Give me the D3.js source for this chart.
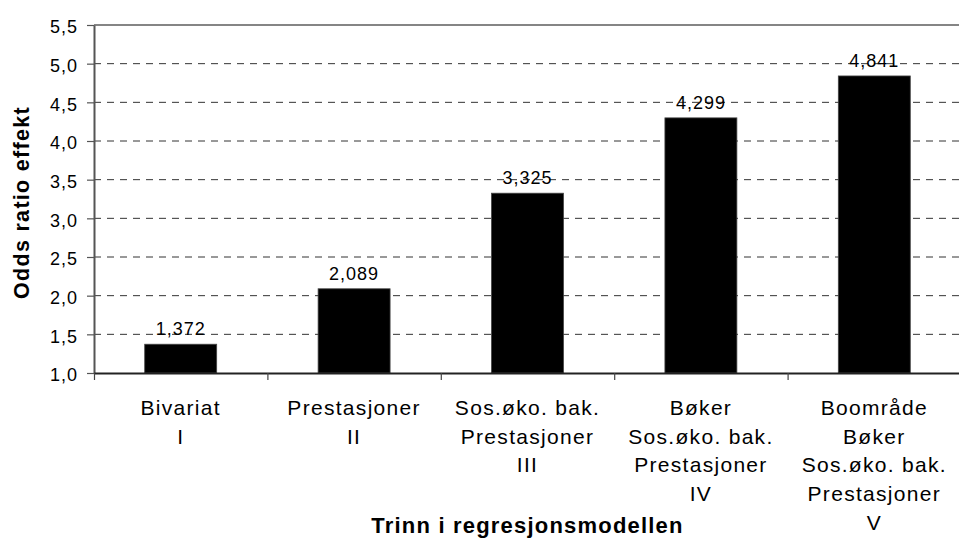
<!DOCTYPE html>
<html>
<head>
<meta charset="utf-8">
<script src="https://cdn.jsdelivr.net/npm/d3@7"></script>
<style>
  html, body { margin: 0; padding: 0; background: #fff; }
  svg text { font-family: "Liberation Sans", Arial, sans-serif; fill: #000; }
</style>
</head>
<body>
<div id="chart"></div>
<script>
// data
const categories = [
  ["Bivariat", "I"],
  ["Prestasjoner", "II"],
  ["Sos.øko. bak.", "Prestasjoner", "III"],
  ["Bøker", "Sos.øko. bak.", "Prestasjoner", "IV"],
  ["Boområde", "Bøker", "Sos.øko. bak.", "Prestasjoner", "V"]
]
const values = [1.372, 2.089, 3.325, 4.299, 4.841]
const yTicks = [1.0, 1.5, 2.0, 2.5, 3.0, 3.5, 4.0, 4.5, 5.0, 5.5]
const yTitle = "Odds ratio effekt"
const xTitle = "Trinn i regresjonsmodellen"

const width = 959
const height = 538
const plotLeft = 94, plotRight = 961, plotTop = 25, plotBottom = 373

const comma = f => v => d3.format(f)(v).replace(".", ",")

const svg = d3.select("#chart")
  .append("svg")
  .attr("xmlns", "http://www.w3.org/2000/svg")
  .attr("width", width)
  .attr("height", height)

const y = d3.scaleLinear().domain([1, 5.5]).range([plotBottom, plotTop])
const x = d3.scaleBand().domain(d3.range(values.length)).range([plotLeft, plotRight])
  .paddingInner(0.585).paddingOuter(0.2925)
const xEdge = d3.scaleLinear().domain([0, values.length]).range([plotLeft, plotRight])

// dashed gridlines
svg.append("g")
  .selectAll("line")
  .data(yTicks.filter(t => t > 1 && t < 5.5))
  .enter()
  .append("line")
  .attr("x1", plotLeft)
  .attr("x2", plotRight)
  .attr("y1", d => y(d))
  .attr("y2", d => y(d))
  .attr("stroke", "#333")
  .attr("stroke-width", 1)
  .attr("stroke-dasharray", "7,6")

// top border of plot area
svg.append("line")
  .attr("x1", plotLeft).attr("x2", plotRight)
  .attr("y1", y(5.5)).attr("y2", y(5.5))
  .attr("stroke", "#858585")
  .attr("stroke-width", 2)

// bars
svg.append("g")
  .selectAll("rect")
  .data(values)
  .enter()
  .append("rect")
  .attr("x", (d, i) => x(i))
  .attr("width", x.bandwidth())
  .attr("y", d => y(d))
  .attr("height", d => y(1) - y(d))
  .attr("fill", "#000")
  .attr("stroke", "#444")
  .attr("stroke-width", 0.8)

// value labels
svg.append("g")
  .selectAll("text")
  .data(values)
  .enter()
  .append("text")
  .attr("x", (d, i) => x(i) + x.bandwidth() / 2)
  .attr("y", d => y(d) - 9)
  .attr("text-anchor", "middle")
  .style("font-size", "18px")
  .style("letter-spacing", "1px")
  .text(d => comma(".3f")(d))

// y axis
const yAxis = svg.append("g")
  .attr("transform", `translate(${plotLeft},0)`)
  .call(d3.axisLeft(y).tickValues(yTicks).tickFormat(comma(".1f")).tickSize(7).tickSizeOuter(0))
yAxis.select(".domain").attr("stroke", "#555").attr("stroke-width", 2)
yAxis.selectAll(".tick line").attr("stroke", "#555").attr("stroke-width", 1.2)
yAxis.selectAll(".tick text")
  .attr("x", -16)
  .attr("dy", "0.43em")
  .style("font-size", "18px")
  .style("letter-spacing", "1px")
  .attr("fill", "#000")

// x axis, ticks on category boundaries
const xAxis = svg.append("g")
  .attr("transform", `translate(0,${plotBottom})`)
  .call(d3.axisBottom(xEdge).tickValues(d3.range(values.length + 1)).tickFormat("").tickSize(7).tickSizeOuter(0))
xAxis.select(".domain").attr("stroke", "#222").attr("stroke-width", 2)
xAxis.selectAll(".tick line").attr("stroke", "#444").attr("stroke-width", 1.2)

// category labels
const catG = svg.append("g")
  .selectAll("text")
  .data(categories)
  .enter()
  .append("text")
  .attr("text-anchor", "middle")
  .style("font-size", "21px")
  .style("letter-spacing", "1.3px")
catG.selectAll("tspan")
  .data((d, i) => d.map(line => ({ line, i })))
  .enter()
  .append("tspan")
  .attr("x", d => x(d.i) + x.bandwidth() / 2)
  .attr("y", (d, j) => 415 + j * 28.7)
  .text(d => d.line)

// axis titles
svg.append("text")
  .attr("transform", "translate(28.5,202.5)rotate(-90)")
  .attr("text-anchor", "middle")
  .style("font-size", "21.5px")
  .style("font-weight", "bold")
  .style("letter-spacing", "1.3px")
  .text(yTitle)

svg.append("text")
  .attr("x", (plotLeft + plotRight) / 2)
  .attr("y", 533)
  .attr("text-anchor", "middle")
  .style("font-size", "22px")
  .style("font-weight", "bold")
  .style("letter-spacing", "1.2px")
  .text(xTitle)
</script>
</body>
</html>
